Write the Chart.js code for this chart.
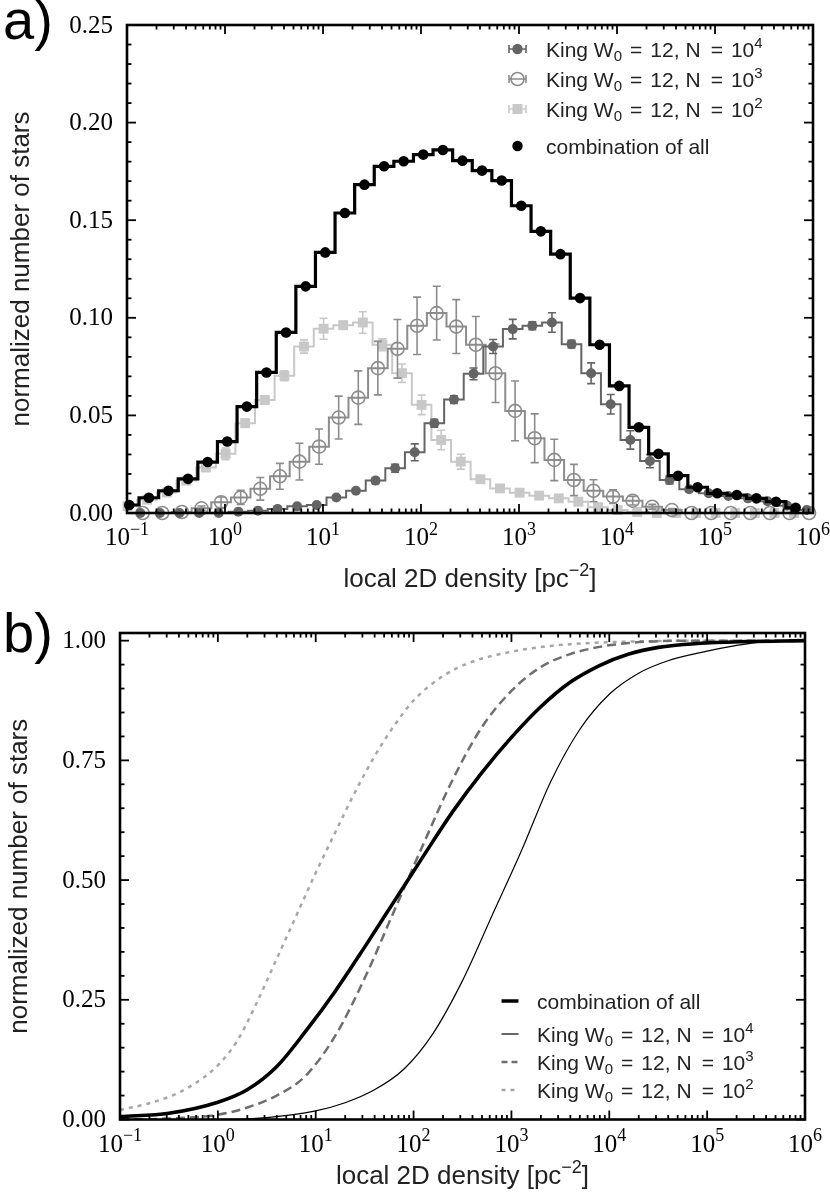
<!DOCTYPE html>
<html>
<head>
<meta charset="utf-8">
<script src="https://cdn.jsdelivr.net/npm/chart.js@4.4.0/dist/chart.umd.min.js"></script>
<style>
  body { margin: 0; background: #fff; width: 830px; height: 1197px; position: relative; overflow: hidden; }
  canvas { position: absolute; left: 0; }
  #histChart { top: 0; }
  #cumChart { top: 600px; }
</style>
</head>
<body>
<canvas id="histChart" width="830" height="600"></canvas>
<canvas id="cumChart" width="830" height="597"></canvas>
<script>
// ---- panel a: histograms, 0.2 dex bins (log10 of first bin centre per series)
const binStep = 0.2;
const comboStart = -0.977;
const n4Start = -0.864;
const n3Start = -0.84;
const n2Start = -0.994;

const comboHist = [0.0041, 0.0078, 0.0114, 0.0175, 0.0261, 0.0366, 0.0545, 0.0720, 0.0925, 0.1161,
  0.1335, 0.1537, 0.1682, 0.1776, 0.1802, 0.1836, 0.1860, 0.1805, 0.1754, 0.1703,
  0.1574, 0.1443, 0.1326, 0.1101, 0.0862, 0.0651, 0.0439, 0.0303, 0.0191, 0.0132,
  0.0101, 0.0092, 0.0075, 0.0058, 0.0027];

const n4Hist = [0, 0, 0, 0, 0, 0.0007, 0.0012, 0.0021, 0.0034, 0.0041,
  0.0079, 0.0114, 0.0166, 0.0229, 0.0311, 0.0460, 0.0581, 0.0713, 0.0853, 0.0942,
  0.0959, 0.0976, 0.0865, 0.0716, 0.0557, 0.0374, 0.0266, 0.0169, 0.0122, 0.0101,
  0.0087, 0.0075, 0.0060, 0.0037, 0.0015];
const n4Err = [0, 0, 0, 0, 0, 0, 0, 0, 0, 0.0005,
  0.001, 0.001, 0.0015, 0.002, 0.0043, 0.002, 0.002, 0.003, 0.0036, 0.005,
  0.002, 0.005, 0.002, 0.0053, 0.005, 0.0047, 0.0034, 0.002, 0.001, 0.001,
  0.0005, 0.0005, 0.0005, 0.0005, 0];

const n3Hist = [0, 0, 0.0005, 0.0024, 0.0055, 0.0080, 0.0124, 0.0188, 0.0263, 0.0340,
  0.0489, 0.0591, 0.0742, 0.0841, 0.0959, 0.1024, 0.0955, 0.0862, 0.0716, 0.0523,
  0.0383, 0.0272, 0.0169, 0.0114, 0.0084, 0.0063, 0.0032, 0.0015, 0, 0,
  0, 0, 0, 0, 0];
const n3Err = [0, 0, 0, 0.0012, 0.0027, 0.0036, 0.0058, 0.0066, 0.0094, 0.0090,
  0.0110, 0.0137, 0.0137, 0.0150, 0.0147, 0.0138, 0.0138, 0.0145, 0.0150, 0.0153,
  0.0125, 0.0106, 0.0080, 0.0056, 0.0035, 0.0022, 0.0012, 0.0008, 0, 0,
  0, 0, 0, 0, 0];

const n2Hist = [0.0035, 0.0068, 0.0105, 0.0166, 0.0233, 0.0303, 0.0460, 0.0579, 0.0703, 0.0853,
  0.0944, 0.0962, 0.0976, 0.0862, 0.0716, 0.0554, 0.0374, 0.0263, 0.0173, 0.0126,
  0.0104, 0.0089, 0.0075, 0.0058, 0.0030, 0.0015, 0.0005, 0, 0, 0,
  0, 0, 0, 0, 0];
const n2Err = [0, 0, 0.001, 0.001, 0.0015, 0.003, 0.002, 0.002, 0.0025, 0.0034,
  0.0054, 0.002, 0.0055, 0.003, 0.0047, 0.005, 0.005, 0.0038, 0.0015, 0.001,
  0.001, 0.001, 0.001, 0.001, 0, 0, 0, 0, 0, 0,
  0, 0, 0, 0, 0];

// ---- panel b: cumulative curves (log10 density, fraction)
const cumComboLog = [-1, -0.5, 0, 0.3, 0.6, 0.9, 1.2, 1.5, 1.8, 2.1, 2.4, 2.7, 3.0, 3.3, 3.6, 3.9, 4.2, 4.5, 4.9, 5.4, 6];
const cumCombo = [0.006, 0.013, 0.036, 0.062, 0.110, 0.185, 0.268, 0.360, 0.455, 0.550, 0.643, 0.725, 0.798, 0.862, 0.913, 0.948, 0.972, 0.986, 0.994, 0.998, 1.0];

const cumN4Log = [-1, 0, 0.5, 1.0, 1.3, 1.6, 1.9, 2.2, 2.5, 2.8, 3.1, 3.4, 3.7, 4.0, 4.3, 4.6, 5.0, 5.3, 5.6, 6];
const cumN4 = [0, 0, 0.004, 0.018, 0.035, 0.062, 0.105, 0.180, 0.290, 0.425, 0.560, 0.705, 0.815, 0.888, 0.932, 0.958, 0.978, 0.990, 0.998, 1.0];

const cumN3Log = [-1, -0.5, 0, 0.3, 0.6, 0.9, 1.2, 1.5, 1.8, 2.1, 2.4, 2.7, 3.0, 3.3, 3.6, 3.9, 4.2, 4.5, 5, 6];
const cumN3 = [0, 0.002, 0.010, 0.025, 0.050, 0.092, 0.175, 0.295, 0.435, 0.575, 0.710, 0.820, 0.895, 0.945, 0.972, 0.987, 0.995, 0.999, 1.0, 1.0];

const cumN2Log = [-1, -0.7, -0.4, -0.2, 0, 0.2, 0.4, 0.6, 0.8, 1.0, 1.2, 1.4, 1.6, 1.8, 2.0, 2.3, 2.6, 3.0, 3.4, 3.8, 4.2, 5, 6];
const cumN2 = [0.020, 0.034, 0.056, 0.080, 0.113, 0.165, 0.245, 0.335, 0.425, 0.515, 0.600, 0.683, 0.758, 0.822, 0.875, 0.926, 0.956, 0.977, 0.989, 0.995, 0.998, 1.0, 1.0];

const xExponents = [-1, 0, 1, 2, 3, 4, 5, 6];
const yTicksA = [0, 0.05, 0.10, 0.15, 0.20, 0.25];
const yTicksB = [0, 0.25, 0.50, 0.75, 1.00];

const SERIF = '"Liberation Serif", "Times New Roman", serif';
const SANS = '"Liberation Sans", Arial, Helvetica, sans-serif';

function histPoints(start, values) {
  return values.map((v, i) => ({ x: Math.pow(10, start + binStep * i), y: v }));
}
function curvePoints(logs, values) {
  return logs.map((l, i) => ({ x: Math.pow(10, l), y: values[i] }));
}

// text with sub/superscript pieces: [text, 'sup'|'sub'|undefined] or a number (extra gap in px)
function richText(ctx, parts, x, y, size, family, align) {
  const small = Math.round(size * 0.7);
  const widths = parts.map(p => {
    if (typeof p === 'number') return p;
    ctx.font = (p[1] ? small : size) + 'px ' + family;
    return ctx.measureText(p[0]).width;
  });
  const total = widths.reduce((a, b) => a + b, 0);
  let cx = align === 'center' ? x - total / 2 : x;
  ctx.textAlign = 'left';
  ctx.textBaseline = 'alphabetic';
  parts.forEach((p, i) => {
    if (typeof p !== 'number') {
      ctx.font = (p[1] ? small : size) + 'px ' + family;
      let dy = 0;
      if (p[1] === 'sup') dy = -size * 0.42;
      if (p[1] === 'sub') dy = size * 0.2;
      ctx.fillText(p[0], cx, y + dy);
    }
    cx += widths[i];
  });
}

// error bars drawn just under each dataset
const errorBars = {
  id: 'errorBars',
  beforeDatasetDraw(chart, args) {
    const ds = chart.data.datasets[args.index];
    if (!ds.errors) return;
    const ctx = chart.ctx, ys = chart.scales.y;
    ctx.save();
    ctx.strokeStyle = ds.borderColor;
    ctx.lineWidth = 1.6;
    args.meta.data.forEach((pt, i) => {
      const e = ds.errors[i];
      if (!e) return;
      const v = ds.data[i].y;
      const y1 = ys.getPixelForValue(v - e), y2 = ys.getPixelForValue(v + e);
      ctx.beginPath();
      ctx.moveTo(pt.x, y1); ctx.lineTo(pt.x, y2);
      ctx.moveTo(pt.x - 4, y1); ctx.lineTo(pt.x + 4, y1);
      ctx.moveTo(pt.x - 4, y2); ctx.lineTo(pt.x + 4, y2);
      ctx.stroke();
    });
    ctx.restore();
  }
};

// frame, inward ticks on all sides, tick labels, axis titles, panel letter
const frame = {
  id: 'frame',
  afterDraw(chart, args, o) {
    const ctx = chart.ctx, a = chart.chartArea, xs = chart.scales.x, ys = chart.scales.y;
    ctx.save();
    ctx.strokeStyle = '#000';
    ctx.lineWidth = 1.8;
    const seg = (x1, y1, x2, y2) => { ctx.beginPath(); ctx.moveTo(x1, y1); ctx.lineTo(x2, y2); ctx.stroke(); };
    xExponents.forEach(e => {
      const p = xs.getPixelForValue(Math.pow(10, e));
      seg(p, a.bottom, p, a.bottom - 9); seg(p, a.top, p, a.top + 9);
      if (e < 6) {
        for (let m = 2; m <= 9; m++) {
          const q = xs.getPixelForValue(m * Math.pow(10, e));
          seg(q, a.bottom, q, a.bottom - 4.5); seg(q, a.top, q, a.top + 4.5);
        }
      }
    });
    for (let k = 0; k * o.yMinor <= ys.max + 1e-9; k++) {
      const v = k * o.yMinor;
      const major = o.yTicks.some(t => Math.abs(t - v) < 1e-9);
      const p = ys.getPixelForValue(v), len = major ? 9 : 4.5;
      seg(a.left, p, a.left + len, p); seg(a.right, p, a.right - len, p);
    }
    ctx.lineWidth = 2.6;
    ctx.strokeRect(a.left, a.top, a.right - a.left, a.bottom - a.top);

    ctx.fillStyle = '#000';
    ctx.font = '25px ' + SERIF;
    ctx.textAlign = 'right';
    ctx.textBaseline = 'middle';
    o.yTicks.forEach(t => ctx.fillText(t.toFixed(2), a.left - 14, ys.getPixelForValue(t) + 1));
    xExponents.forEach(e => {
      const p = xs.getPixelForValue(Math.pow(10, e));
      const sign = e < 0 ? '\u2212' : '';
      richText(ctx, [['10'], [sign + Math.abs(e), 'sup']], p, a.bottom + 32, 25, SERIF, 'center');
    });

    ctx.fillStyle = '#222';
    richText(ctx, [['local 2D density [pc'], ['\u22122', 'sup'], [']']],
      (a.left + a.right) / 2, a.bottom + o.xTitleOffset, 26, SANS, 'center');
    ctx.save();
    ctx.translate(o.yTitleX, (a.top + a.bottom) / 2);
    ctx.rotate(-Math.PI / 2);
    ctx.font = '26px ' + SANS;
    ctx.textAlign = 'center';
    ctx.textBaseline = 'middle';
    ctx.fillText('normalized number of stars', 0, 0);
    ctx.restore();

    ctx.fillStyle = '#000';
    ctx.font = '56px ' + SANS;
    ctx.textAlign = 'left';
    ctx.textBaseline = 'alphabetic';
    ctx.fillText(o.letter, 3, o.letterY);
    ctx.restore();
  }
};

const kingParts = n => [['King W'], ['0', 'sub'], 8, ['='], 8, ['12,'], 6, ['N'], 10, ['='], 8, ['10'], [String(n), 'sup']];

const legendA = {
  id: 'legendA',
  afterDraw(chart) {
    const ctx = chart.ctx;
    const mx = 517.5, tx = 546;
    const rows = [
      { y: 49, color: '#646464', kind: 'dot', text: kingParts(4) },
      { y: 79, color: '#8c8c8c', kind: 'ring', text: kingParts(3) },
      { y: 109, color: '#c8c8c8', kind: 'square', text: kingParts(2) },
      { y: 146, color: '#000', kind: 'plain', text: [['combination of all']] }
    ];
    ctx.save();
    rows.forEach(r => {
      ctx.strokeStyle = r.color; ctx.fillStyle = r.color; ctx.lineWidth = 1.6;
      if (r.kind !== 'plain') {
        ctx.beginPath();
        ctx.moveTo(mx - 8.5, r.y); ctx.lineTo(mx + 8.5, r.y);
        ctx.moveTo(mx - 8.5, r.y - 4); ctx.lineTo(mx - 8.5, r.y + 4);
        ctx.moveTo(mx + 8.5, r.y - 4); ctx.lineTo(mx + 8.5, r.y + 4);
        ctx.stroke();
      }
      ctx.beginPath();
      if (r.kind === 'square') { ctx.rect(mx - 5, r.y - 5, 10, 10); ctx.fill(); }
      else if (r.kind === 'ring') { ctx.arc(mx, r.y, 6.5, 0, Math.PI * 2); ctx.stroke(); }
      else { ctx.arc(mx, r.y, 5.2, 0, Math.PI * 2); ctx.fill(); }
      ctx.fillStyle = '#222';
      richText(ctx, r.text, tx, r.y + 7.5, 21, SANS, 'left');
    });
    ctx.restore();
  }
};

const legendB = {
  id: 'legendB',
  afterDraw(chart) {
    const ctx = chart.ctx;
    const x1 = 501.5, x2 = 518.5, tx = 537;
    const rows = [
      { y: 401, color: '#000', width: 3.5, dash: [], text: [['combination of all']] },
      { y: 434, color: '#000', width: 1.2, dash: [], text: kingParts(4) },
      { y: 462, color: '#6e6e6e', width: 2.5, dash: [6, 4], text: kingParts(3) },
      { y: 490, color: '#a6a6a6', width: 2.5, dash: [4, 5], text: kingParts(2) }
    ];
    ctx.save();
    rows.forEach(r => {
      ctx.strokeStyle = r.color; ctx.lineWidth = r.width; ctx.setLineDash(r.dash);
      ctx.beginPath(); ctx.moveTo(x1, r.y); ctx.lineTo(x2, r.y); ctx.stroke();
      ctx.setLineDash([]);
      ctx.fillStyle = '#222';
      richText(ctx, r.text, tx, r.y + 7.5, 21, SANS, 'left');
    });
    ctx.restore();
  }
};

function baseOptions(padTop, padRight, yWidth, xHeight, yMax, frameOpts) {
  return {
    responsive: false,
    animation: false,
    devicePixelRatio: 1,
    layout: { padding: { top: padTop, right: padRight, left: 0, bottom: 0 } },
    plugins: { legend: { display: false }, tooltip: { enabled: false }, frame: frameOpts },
    scales: {
      x: {
        type: 'logarithmic', min: 0.1, max: 1e6,
        grid: { display: false }, border: { display: false }, ticks: { display: false },
        afterFit: s => { s.height = xHeight; }
      },
      y: {
        type: 'linear', min: 0, max: yMax,
        grid: { display: false }, border: { display: false }, ticks: { display: false },
        afterFit: s => { s.width = yWidth; }
      }
    }
  };
}

const histSet = (label, start, values, errors, color, extra) => Object.assign({
  label, data: histPoints(start, values), errors,
  stepped: 'middle', borderColor: color, backgroundColor: color,
  pointBackgroundColor: color, pointBorderColor: color,
  borderWidth: 2, pointRadius: 5, pointBorderWidth: 0, fill: false, clip: false
}, extra);

new Chart(document.getElementById('histChart'), {
  type: 'line',
  data: {
    datasets: [
      histSet('combination of all', comboStart, comboHist, null, '#000', { borderWidth: 3.2, pointRadius: 5.3 }),
      histSet('King W0 = 12, N = 10^4', n4Start, n4Hist, n4Err, '#646464', {}),
      histSet('King W0 = 12, N = 10^3', n3Start, n3Hist, n3Err, '#8c8c8c',
        { pointRadius: 6.5, pointBackgroundColor: 'rgba(0,0,0,0)', pointBorderWidth: 1.6 }),
      histSet('King W0 = 12, N = 10^2', n2Start, n2Hist, n2Err, '#c8c8c8', { pointStyle: 'rect', pointRadius: 7 })
    ]
  },
  options: baseOptions(25, 17, 127, 87, 0.25,
    { yTicks: yTicksA, yMinor: 0.01, xTitleOffset: 74, yTitleX: 22, letter: 'a)', letterY: 39 }),
  plugins: [errorBars, frame, legendA]
});

const curveSet = (label, logs, values, color, width, dash) => ({
  label, data: curvePoints(logs, values),
  borderColor: color, borderWidth: width, borderDash: dash,
  cubicInterpolationMode: 'monotone', pointRadius: 0, fill: false
});

new Chart(document.getElementById('cumChart'), {
  type: 'line',
  data: {
    datasets: [
      curveSet('combination of all', cumComboLog, cumCombo, '#000', 3.6, []),
      curveSet('King W0 = 12, N = 10^4', cumN4Log, cumN4, '#000', 1.2, []),
      curveSet('King W0 = 12, N = 10^3', cumN3Log, cumN3, '#6e6e6e', 2.5, [9, 5]),
      curveSet('King W0 = 12, N = 10^2', cumN2Log, cumN2, '#a6a6a6', 2.5, [4, 5])
    ]
  },
  options: baseOptions(33, 25, 120, 77.5, 1.016,
    { yTicks: yTicksB, yMinor: 0.05, xTitleOffset: 64.5, yTitleX: 20, letter: 'b)', letterY: 52 }),
  plugins: [frame, legendB]
});
</script>
</body>
</html>
